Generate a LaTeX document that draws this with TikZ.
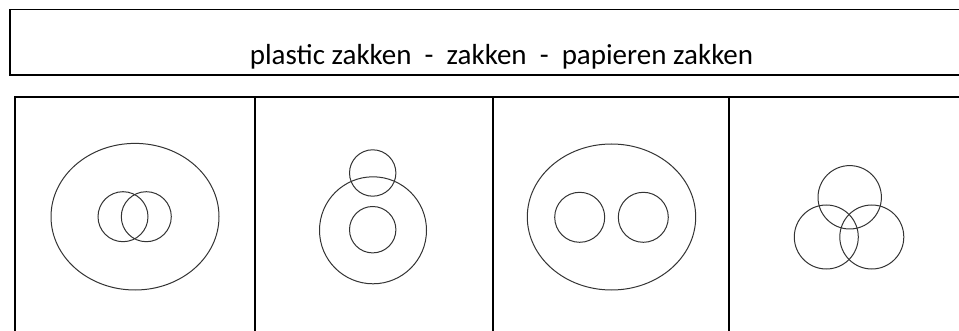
\documentclass[tikz,border=0pt]{standalone}
\usepackage{fontspec}
\setmainfont{Carlito}
\begin{document}
\begin{tikzpicture}[x=1pt,y=-1pt,
  frame/.style={draw=black,line width=1.4pt},
  ring/.style={draw=black!80,line width=1pt}]
\useasboundingbox (0,0) rectangle (959,331);
\clip (0,0) rectangle (959,331);
% title box
\draw[frame] (10,9.3) rectangle (975,75);
\node[anchor=base,inner sep=0pt,font=\fontsize{29}{34}\selectfont] (title) at (501.5,65)
  {plastic zakken\ \ -\ \ zakken\ \ -\ \ papieren zakken};
% table
\draw[frame] (15,97) rectangle (975,345);
\draw[frame] (255,97) -- (255,345);
\draw[frame] (493,97) -- (493,345);
\draw[frame] (729,97) -- (729,345);
% panel 1
\draw[ring] (135,216.7) ellipse [x radius=84, y radius=73.3];
\draw[ring] (123,216.7) circle (25);
\draw[ring] (146.3,216.7) circle (25);
% panel 2
\draw[ring] (373,230.3) circle (53.5);
\draw[ring] (372.7,173) circle (23.2);
\draw[ring] (372.7,229.7) circle (23.2);
% panel 3
\draw[ring] (611.5,217) ellipse [x radius=84.2, y radius=73];
\draw[ring] (579.7,217.3) circle (25);
\draw[ring] (643.3,217.3) circle (25);
% panel 4
\draw[ring] (849.7,197.3) circle (31.7);
\draw[ring] (826.3,237) circle (32);
\draw[ring] (871.8,237) circle (32);
\end{tikzpicture}
\end{document}
